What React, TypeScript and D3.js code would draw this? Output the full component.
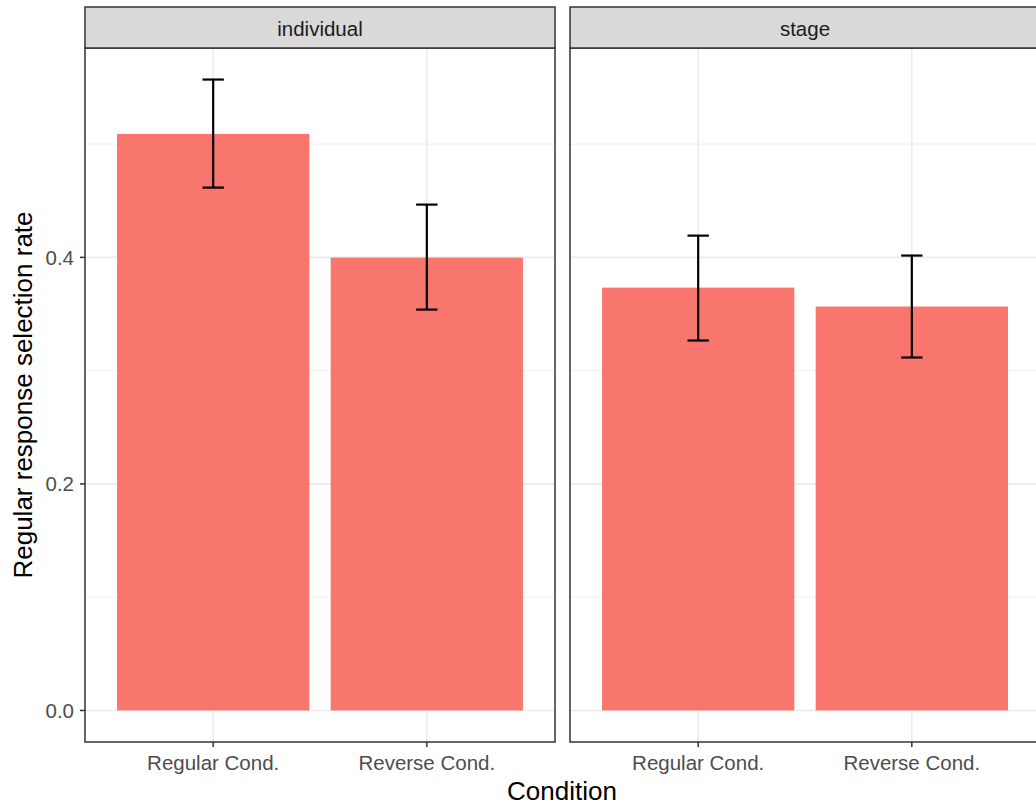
import React from "react";
import * as d3 from "d3";

const panels = ["individual", "stage"];
const categories = ["Regular Cond.", "Reverse Cond."];
const meanIndividual = [0.509, 0.3998];
const lowIndividual = [0.4616, 0.3539];
const highIndividual = [0.557, 0.4466];
const meanStage = [0.3733, 0.3566];
const lowStage = [0.3266, 0.3116];
const highStage = [0.4192, 0.4016];
const yTicks = [0, 0.2, 0.4];
const yMinor = [0.1, 0.3, 0.5];

const W = 1036;
const H = 805;
const FONT = "'Liberation Sans', Arial, Helvetica, sans-serif";
const SMALL = 20.5;
const TITLE = 26;

export default function App() {
  const panelData = [
    { name: panels[0], mean: meanIndividual, low: lowIndividual, high: highIndividual },
    { name: panels[1], mean: meanStage, low: lowStage, high: highStage },
  ];
  const yMax = d3.max([...highIndividual, ...highStage]) as number;
  const pad = yMax * 0.05;
  const top = 48;
  const bottom = 742;
  const y = d3.scaleLinear().domain([-pad, yMax + pad]).range([bottom, top]);
  const panelLefts = [85, 570];
  const panelW = 470;
  const stripTop = 7;

  return (
    <svg width={W} height={H} style={{ position: "absolute", left: 0, top: 0 }} fontFamily={FONT}>
      <rect width={W} height={H} fill="#ffffff" />
      {panelData.map((p, pi) => {
        const x0 = panelLefts[pi];
        const x = d3.scaleLinear().domain([0.4, 2.6]).range([x0, x0 + panelW]);
        const bw = x(1.45) - x(1);
        const cw = x(1.05) - x(1);
        return (
          <g key={p.name}>
            <clipPath id={"clip" + pi}>
              <rect x={x0} y={top} width={panelW} height={bottom - top} />
            </clipPath>
            <g clipPath={`url(#clip${pi})`}>
              {yMinor.map((t) => (
                <line key={"mi" + t} x1={x0} x2={x0 + panelW} y1={y(t)} y2={y(t)} stroke="#EBEBEB" strokeWidth={0.8} />
              ))}
              {yTicks.map((t) => (
                <line key={"ma" + t} x1={x0} x2={x0 + panelW} y1={y(t)} y2={y(t)} stroke="#EBEBEB" strokeWidth={1.6} />
              ))}
              {categories.map((c, i) => (
                <line key={"vx" + c} x1={x(i + 1)} x2={x(i + 1)} y1={top} y2={bottom} stroke="#EBEBEB" strokeWidth={1.6} />
              ))}
              {categories.map((c, i) => (
                <rect key={"b" + c} x={x(i + 1) - bw} width={bw * 2} y={y(p.mean[i])} height={y(0) - y(p.mean[i])} fill="#F8766D" />
              ))}
              {categories.map((c, i) => (
                <g key={"e" + c} stroke="#000" strokeWidth={2.2}>
                  <line x1={x(i + 1)} x2={x(i + 1)} y1={y(p.low[i])} y2={y(p.high[i])} />
                  <line x1={x(i + 1) - cw} x2={x(i + 1) + cw} y1={y(p.low[i])} y2={y(p.low[i])} />
                  <line x1={x(i + 1) - cw} x2={x(i + 1) + cw} y1={y(p.high[i])} y2={y(p.high[i])} />
                </g>
              ))}
            </g>
            <rect x={x0} y={top} width={panelW} height={bottom - top} fill="none" stroke="#333333" strokeWidth={1.5} />
            <rect x={x0} y={stripTop} width={panelW} height={top - stripTop} fill="#D9D9D9" stroke="#333333" strokeWidth={1.5} />
            <text x={x0 + panelW / 2} y={(stripTop + top) / 2 + 1} dy="0.35em" textAnchor="middle" fontSize={SMALL} fill="#1A1A1A">
              {p.name}
            </text>
            {categories.map((c, i) => (
              <g key={"xt" + c}>
                <line x1={x(i + 1)} x2={x(i + 1)} y1={bottom} y2={bottom + 5} stroke="#333333" strokeWidth={1.5} />
                <text x={x(i + 1)} y={763} dy="0.35em" textAnchor="middle" fontSize={SMALL} fill="#4D4D4D">
                  {c}
                </text>
              </g>
            ))}
          </g>
        );
      })}
      {yTicks.map((t) => (
        <g key={"yt" + t}>
          <line x1={80} x2={85} y1={y(t)} y2={y(t)} stroke="#333333" strokeWidth={1.5} />
          <text x={74} y={y(t)} dy="0.35em" textAnchor="end" fontSize={SMALL} fill="#4D4D4D">
            {d3.format(".1f")(t)}
          </text>
        </g>
      ))}
      <text x={562} y={791} dy="0.35em" textAnchor="middle" fontSize={TITLE} fill="#000">
        Condition
      </text>
      <text transform={`translate(23,${(top + bottom) / 2}) rotate(-90)`} dy="0.35em" textAnchor="middle" fontSize={TITLE} fill="#000">
        Regular response selection rate
      </text>
    </svg>
  );
}
